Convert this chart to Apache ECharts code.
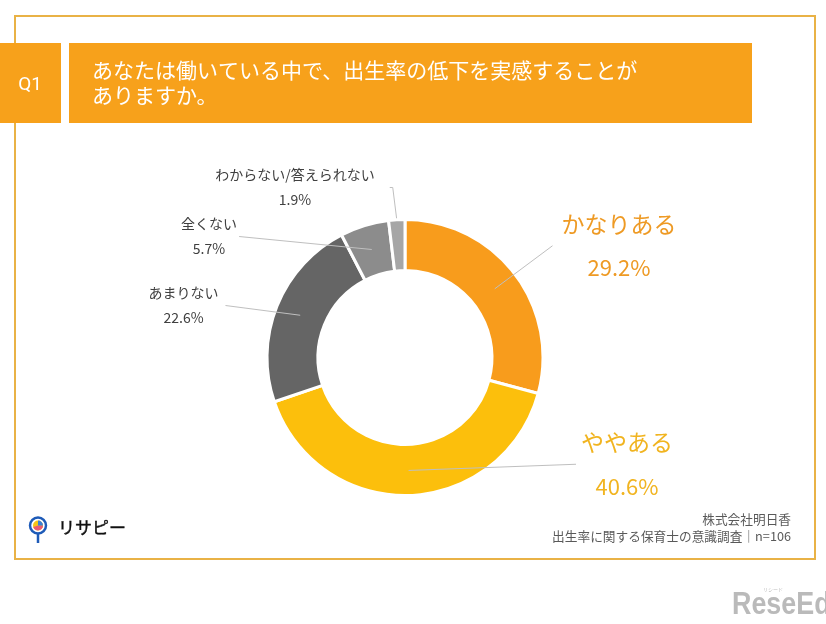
<!DOCTYPE html>
<html><head><meta charset="utf-8">
<script src="https://cdn.jsdelivr.net/npm/echarts@6/dist/echarts.min.js"></script>
<style>html,body{margin:0;padding:0;background:#fff}#c{width:826px;height:624px}</style>
</head><body><div id="c"></div>
<script>
// ---- data ----
const categories = ['かなりある', 'ややある', 'あまりない', '全くない', 'わからない/答えられない'];
const values = [29.2, 40.6, 22.6, 5.7, 1.9];
const titleLines = ['あなたは働いている中で、出生率の低下を実感することが', 'ありますか。'];
const qLabel = 'Q1';
const footerLines = ['株式会社明日香', '出生率に関する保育士の意識調査｜n=106'];

// ---- styles ----
const sliceColors = ['#F89C1C', '#FCBF0C', '#656565', '#8C8C8C', '#A6A6A6'];
const labelColors = ['#EE9A24', '#F1B420', '#404040', '#404040', '#404040'];
const bigLabel = [true, true, false, false, false];
// label text centres, gap between leader line and text, and on which side the gap is
const labelCentre = [[619, 246], [627, 464.5], [183.5, 305.5], [209, 236.5], [295, 187.5]];
const gapW = [9, 5, 7, 2, 15];
const gapLeft = [true, true, false, false, false];
const onMainRing = [false, false, false, false, true];
const CJK = '"Noto Sans CJK JP", "Noto Sans", sans-serif';

const chart = echarts.init(document.getElementById('c'), null, {renderer: 'canvas'});

function fmt(p) {
  const i = p.dataIndex;
  const k = bigLabel[i] ? 'b' : 's';
  const n = `{${k}n${i}|${p.name}}`;
  const v = `{${k}v${i}|${values[i].toFixed(1)}%}`;
  const g = `{g${i}| }`;
  return gapLeft[i] ? `${g}${n}\n${g}${v}` : `${n}${g}\n${v}${g}`;
}
const rich = {};
categories.forEach((c, i) => {
  const lh = bigLabel[i] ? 44 : 25;
  if (bigLabel[i]) {
    rich['bn' + i] = {fontSize: 23, lineHeight: lh, color: labelColors[i], fontFamily: CJK};
    rich['bv' + i] = {fontSize: 22, lineHeight: lh, color: labelColors[i], fontFamily: CJK};
  } else {
    rich['sn' + i] = {fontSize: 14, lineHeight: lh, color: labelColors[i], fontFamily: CJK};
    rich['sv' + i] = {fontSize: 14, lineHeight: lh, color: labelColors[i], fontFamily: CJK};
  }
  rich['g' + i] = {width: gapW[i], fontSize: 10, lineHeight: lh};
});

function buildData(forMain) {
  return categories.map((name, i) => {
    const showLabel = forMain ? onMainRing[i] : !onMainRing[i];
    return {
      name: name,
      value: values[i],
      itemStyle: forMain ? {color: sliceColors[i]} : {color: 'rgba(0,0,0,0)', borderWidth: 0},
      label: {show: showLabel},
      labelLine: {show: showLabel, length2: onMainRing[i] ? 3 : 0}
    };
  });
}
function layoutFn(p) {
  const i = p.dataIndex;
  const c = labelCentre[i];
  const x = gapLeft[i] ? c[0] - gapW[i] / 2 : c[0] + gapW[i] / 2;
  return {x: x, y: c[1], align: 'center', verticalAlign: 'middle'};
}
const commonLabel = {position: 'outside', formatter: fmt, rich: rich, fontFamily: CJK};
const commonLine = {show: true, length: 10, length2: 0, smooth: false, lineStyle: {color: '#BFBFBF', width: 1}};

const option = {
  backgroundColor: '#ffffff',
  animation: false,
  graphic: [
    {type: 'rect', shape: {x: 15, y: 16, width: 800, height: 543}, style: {fill: 'none', stroke: '#E9B246', lineWidth: 2}, z: 0},
    {type: 'rect', shape: {x: 0, y: 43, width: 61, height: 80}, style: {fill: '#F7A11B'}, z: 1},
    {type: 'rect', shape: {x: 69, y: 43, width: 683, height: 80}, style: {fill: '#F7A11B'}, z: 1},
    {type: 'text', x: 30, y: 85, style: {text: qLabel, fill: '#fff', fontSize: 19, fontFamily: 'Roboto, "Noto Sans", sans-serif', align: 'center', verticalAlign: 'middle'}, z: 2},
    {type: 'text', x: 92, y: 82.5, style: {text: titleLines.join('\n'), fill: '#fff', fontSize: 21, lineHeight: 25, fontFamily: CJK, align: 'left', verticalAlign: 'middle'}, z: 2},
    {type: 'text', x: 791, y: 519, style: {text: footerLines[0], fill: '#595959', fontSize: 12.7, fontFamily: CJK, align: 'right', verticalAlign: 'middle'}, z: 2},
    {type: 'text', x: 791, y: 536, style: {text: footerLines[1], fill: '#595959', fontSize: 12.7, fontFamily: CJK, align: 'right', verticalAlign: 'middle'}, z: 2},
    // logo
    {type: 'line', shape: {x1: 38, y1: 533, x2: 38, y2: 543}, style: {stroke: '#1E5BB8', lineWidth: 2.5}, z: 2},
    {type: 'circle', shape: {cx: 38, cy: 525.5, r: 8}, style: {fill: '#fff', stroke: '#1E5BB8', lineWidth: 2.5}, z: 2},
    {type: 'circle', shape: {cx: 38, cy: 525.5, r: 5}, style: {fill: '#F5C518'}, z: 3},
    {type: 'sector', shape: {cx: 38, cy: 525.5, r: 5, startAngle: 0, endAngle: Math.PI * 0.9}, style: {fill: '#EA5A73'}, z: 3},
    {type: 'sector', shape: {cx: 38, cy: 525.5, r: 5, startAngle: -Math.PI * 0.5, endAngle: 0}, style: {fill: '#3C7FD6'}, z: 3},
    {type: 'text', x: 58, y: 528, style: {text: 'リサピー', fill: '#111', fontSize: 17, fontWeight: 'normal', fontFamily: CJK, align: 'left', verticalAlign: 'middle', stroke: '#111', lineWidth: 0.4}, z: 2},
    // watermark
    {type: 'text', x: 732, y: 605, scaleX: 0.84, style: {text: 'ReseEd', fill: '#BABABA', fontSize: 32, fontWeight: 'bold', fontFamily: '"Liberation Sans", Arial, sans-serif', align: 'left', verticalAlign: 'middle'}, z: 2},
    {type: 'text', x: 763, y: 589, style: {text: 'リシード', fill: '#BDBDBD', fontSize: 5, fontFamily: CJK, align: 'left', verticalAlign: 'middle'}, z: 2}
  ],
  series: [
    {
      type: 'pie', name: 'main', z: 2,
      center: [405, 357.5], radius: [87, 138],
      startAngle: 90, clockwise: true,
      avoidLabelOverlap: false,
      itemStyle: {borderColor: '#ffffff', borderWidth: 3},
      label: commonLabel, labelLine: commonLine,
      labelLayout: layoutFn,
      emphasis: {disabled: true},
      data: buildData(true)
    },
    {
      type: 'pie', name: 'labels', z: 5,
      center: [405, 357.5], radius: [0, 113],
      startAngle: 90, clockwise: true,
      avoidLabelOverlap: false, silent: true,
      label: commonLabel, labelLine: commonLine,
      labelLayout: layoutFn,
      emphasis: {disabled: true},
      data: buildData(false)
    }
  ]
};
chart.setOption(option);
</script>
</body></html>
